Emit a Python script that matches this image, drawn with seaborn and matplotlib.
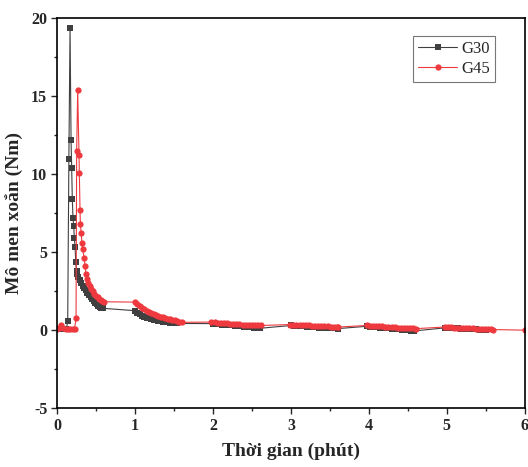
import matplotlib.pyplot as plt
from matplotlib.ticker import MultipleLocator
import seaborn as sns
import pandas as pd

# G30 (mau xam, vuong)
g30_x_start = [0.00, 0.03, 0.06, 0.09, 0.12, 0.137, 0.152, 0.167, 0.180, 0.188, 0.196, 0.205,
               0.214, 0.222, 0.231, 0.240, 0.250, 0.262, 0.275, 0.29, 0.31, 0.33, 0.35, 0.37,
               0.39, 0.41, 0.43, 0.45, 0.47, 0.49, 0.51, 0.53, 0.55, 0.57, 0.59]
g30_y_start = [0.05, 0.08, 0.06, 0.05, 0.05, 0.60, 11.0, 19.4, 12.2, 10.4, 8.4, 7.2,
               6.7, 5.9, 5.35, 4.4, 3.8, 3.6, 3.4, 3.2, 3.0, 2.85, 2.7, 2.55,
               2.4, 2.25, 2.1, 1.98, 1.87, 1.77, 1.67, 1.58, 1.5, 1.44, 1.4]
g30_x_1 = [1.00, 1.03, 1.06, 1.09, 1.12, 1.15, 1.18, 1.21, 1.24, 1.27, 1.30, 1.33, 1.36,
           1.39, 1.42, 1.45, 1.48, 1.51, 1.54]
g30_y_1 = [1.25, 1.12, 1.02, 0.94, 0.87, 0.81, 0.76, 0.71, 0.67, 0.63, 0.60, 0.57, 0.54,
           0.52, 0.50, 0.48, 0.46, 0.44, 0.43]
g30_x_2 = [2.00, 2.04, 2.08, 2.12, 2.16, 2.20, 2.24, 2.28, 2.32, 2.36, 2.40, 2.44, 2.48,
           2.52, 2.56, 2.60]
g30_y_2 = [0.42, 0.40, 0.38, 0.36, 0.34, 0.32, 0.30, 0.28, 0.26, 0.24, 0.22, 0.20, 0.18,
           0.16, 0.14, 0.12]
g30_x_3 = [3.00, 3.04, 3.08, 3.12, 3.16, 3.20, 3.24, 3.28, 3.32, 3.36, 3.40, 3.44, 3.48,
           3.52, 3.56, 3.60]
g30_y_3 = [0.30, 0.29, 0.27, 0.26, 0.24, 0.23, 0.21, 0.20, 0.18, 0.17, 0.16, 0.15, 0.13,
           0.12, 0.11, 0.10]
g30_x_4 = [3.98, 4.02, 4.06, 4.10, 4.14, 4.18, 4.22, 4.26, 4.30, 4.34, 4.38, 4.42, 4.46,
           4.50, 4.54, 4.58]
g30_y_4 = [0.25, 0.23, 0.21, 0.19, 0.17, 0.15, 0.13, 0.11, 0.09, 0.07, 0.05, 0.03, 0.01,
           -0.01, -0.03, -0.05]
g30_x_5 = [4.98, 5.02, 5.06, 5.10, 5.14, 5.18, 5.22, 5.26, 5.30, 5.34, 5.38, 5.42, 5.46, 5.50]
g30_y_5 = [0.15, 0.14, 0.13, 0.12, 0.11, 0.10, 0.09, 0.08, 0.07, 0.06, 0.05, 0.04, 0.02, 0.00]

# G45 (mau do, tron)
g45_x_start = [0.00, 0.03, 0.05, 0.08, 0.11, 0.14, 0.17, 0.20, 0.225, 0.244, 0.252, 0.265,
               0.282, 0.286, 0.295, 0.30, 0.31, 0.32, 0.33, 0.346, 0.36, 0.37, 0.385, 0.40,
               0.42, 0.44, 0.46, 0.48, 0.50, 0.52, 0.54, 0.56, 0.58, 0.60]
g45_y_start = [0.10, 0.15, 0.32, 0.15, 0.10, 0.10, 0.10, 0.10, 0.10, 0.75, 11.5, 15.4,
               11.2, 10.1, 7.7, 6.8, 6.2, 5.6, 5.2, 4.65, 4.1, 3.6, 3.3, 3.05,
               2.85, 2.65, 2.5, 2.35, 2.22, 2.1, 2.0, 1.92, 1.85, 1.82]
g45_x_1 = [1.00, 1.03, 1.06, 1.09, 1.12, 1.15, 1.18, 1.21, 1.24, 1.27, 1.30, 1.33, 1.36,
           1.39, 1.42, 1.45, 1.48, 1.51, 1.54, 1.57, 1.60]
g45_y_1 = [1.80, 1.65, 1.52, 1.42, 1.33, 1.25, 1.17, 1.10, 1.03, 0.97, 0.92, 0.87, 0.82,
           0.78, 0.74, 0.70, 0.66, 0.62, 0.58, 0.54, 0.50]
g45_x_2 = [1.98, 2.02, 2.06, 2.10, 2.14, 2.18, 2.22, 2.26, 2.30, 2.34, 2.38, 2.42, 2.46,
           2.50, 2.54, 2.58, 2.62]
g45_y_2 = [0.52, 0.50, 0.48, 0.46, 0.45, 0.43, 0.42, 0.40, 0.39, 0.38, 0.36, 0.35, 0.34,
           0.33, 0.32, 0.31, 0.30]
g45_x_3 = [2.99, 3.03, 3.07, 3.11, 3.15, 3.19, 3.23, 3.27, 3.31, 3.35, 3.39, 3.43, 3.47,
           3.51, 3.55, 3.59, 3.61]
g45_y_3 = [0.36, 0.35, 0.34, 0.33, 0.32, 0.31, 0.30, 0.29, 0.28, 0.27, 0.26, 0.25, 0.24,
           0.23, 0.22, 0.21, 0.20]
g45_x_4 = [3.97, 4.01, 4.05, 4.09, 4.13, 4.17, 4.21, 4.25, 4.29, 4.33, 4.37, 4.41, 4.45,
           4.49, 4.53, 4.57, 4.61]
g45_y_4 = [0.30, 0.29, 0.28, 0.27, 0.25, 0.24, 0.23, 0.21, 0.20, 0.19, 0.17, 0.16, 0.15,
           0.14, 0.12, 0.11, 0.10]
g45_x_5 = [4.97, 5.01, 5.05, 5.09, 5.13, 5.17, 5.21, 5.25, 5.29, 5.33, 5.37, 5.41, 5.45,
           5.49, 5.53, 5.57, 5.59, 6.00]
g45_y_5 = [0.20, 0.19, 0.18, 0.17, 0.16, 0.15, 0.14, 0.13, 0.12, 0.11, 0.10, 0.09, 0.08,
           0.07, 0.06, 0.05, 0.04, 0.00]

g30 = pd.DataFrame({
    'x': g30_x_start + g30_x_1 + g30_x_2 + g30_x_3 + g30_x_4 + g30_x_5,
    'y': g30_y_start + g30_y_1 + g30_y_2 + g30_y_3 + g30_y_4 + g30_y_5,
})
g45 = pd.DataFrame({
    'x': g45_x_start + g45_x_1 + g45_x_2 + g45_x_3 + g45_x_4 + g45_x_5,
    'y': g45_y_start + g45_y_1 + g45_y_2 + g45_y_3 + g45_y_4 + g45_y_5,
})

sns.set_style('ticks')
plt.rcParams['font.family'] = ['Liberation Serif', 'DejaVu Serif']
plt.rcParams['axes.unicode_minus'] = False

fig = plt.figure(figsize=(5.28, 4.67), dpi=100)
ax = fig.add_axes([0.108, 0.126, 0.886, 0.835])

sns.lineplot(data=g30, x='x', y='y', ax=ax, sort=False, estimator=None,
             color='#404040', linewidth=0.8, marker='s', markersize=4,
             markeredgewidth=0, label='G30')
sns.lineplot(data=g45, x='x', y='y', ax=ax, sort=False, estimator=None,
             color='#ee3a3f', linewidth=0.8, marker='o', markersize=4.5,
             markeredgewidth=0, label='G45')

ax.set_xlim(0, 6)
ax.set_ylim(-5, 20)
ax.xaxis.set_major_locator(MultipleLocator(1))
ax.xaxis.set_minor_locator(MultipleLocator(0.5))
ax.yaxis.set_major_locator(MultipleLocator(5))
ax.yaxis.set_minor_locator(MultipleLocator(2.5))
ax.tick_params(which='major', length=4, width=1, labelsize=11.5, pad=3)
ax.tick_params(which='minor', length=2.5, width=1)
for lbl in ax.get_xticklabels() + ax.get_yticklabels():
    lbl.set_fontweight('bold')
for s in ax.spines.values():
    s.set_visible(True)
    s.set_linewidth(1.2)
    s.set_color('black')

ax.set_xlabel('Thời gian (phút)', fontsize=14, fontweight='bold', labelpad=6)
ax.set_ylabel('Mô men xoắn (Nm)', fontsize=14, fontweight='bold', labelpad=6)

leg = ax.legend(loc='upper right', fontsize=12, fancybox=False, frameon=True,
                edgecolor='#555555', handlelength=2.3, borderpad=0.3,
                bbox_to_anchor=(0.955, 0.975), labelspacing=0.2, handletextpad=0.3)
leg.get_frame().set_linewidth(0.8)

plt.savefig('out.png', dpi=100)
